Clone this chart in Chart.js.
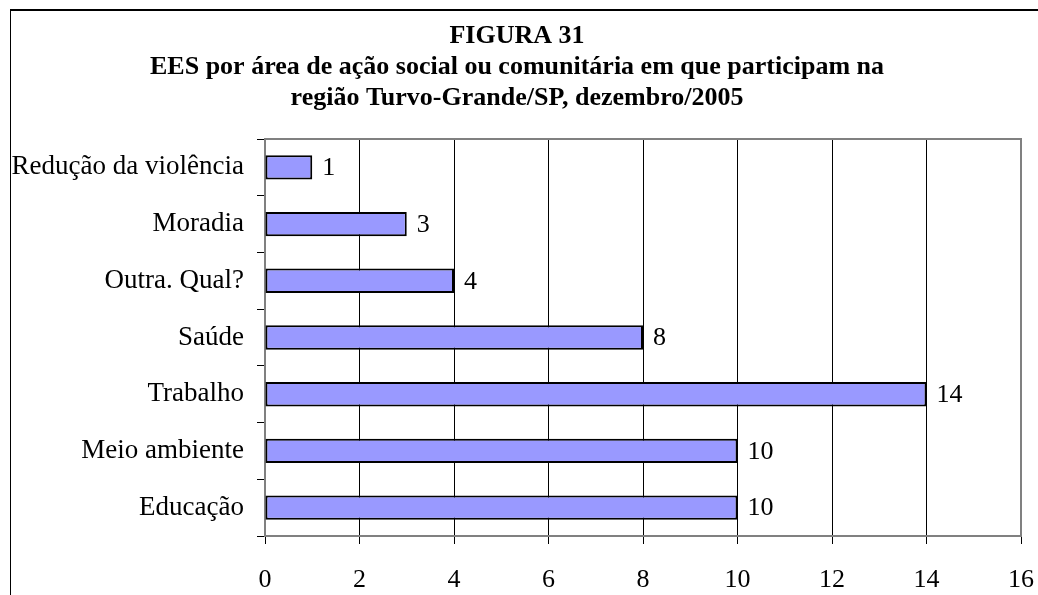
<!DOCTYPE html>
<html lang="pt">
<head>
  <meta charset="UTF-8">
  <title>Figura 31</title>
  <script src="https://cdn.jsdelivr.net/npm/chart.js@4.4.1/dist/chart.umd.min.js"></script>
  <style>
    html, body { margin: 0; padding: 0; background: #fff; overflow: hidden; }
    #wrap { position: relative; width: 1038px; height: 595px; }
    #frame { position: absolute; left: 10px; top: 9px; width: 1100px; height: 700px;
             border-left: 1px solid #000; border-top: 2px solid #000; pointer-events: none; }
  </style>
</head>
<body>
  <div id="wrap">
    <canvas id="grafico" width="1038" height="595"></canvas>
    <div id="frame"></div>
  </div>

  <script>
    // dados
    const areas = ["Redução da violência", "Moradia", "Outra. Qual?", "Saúde", "Trabalho", "Meio ambiente", "Educação"];
    const quantidades = [1, 3, 4, 8, 14, 10, 10];
    const tituloLinhas = [
      "FIGURA 31",
      "EES por área de ação social ou comunitária em que participam na",
      "região Turvo-Grande/SP, dezembro/2005"
    ];

    const fonte = "'Liberation Serif', 'Times New Roman', serif";

    // titulo + rotulos das barras + moldura cinza da area do grafico
    const extras = {
      id: "extras",
      afterDraw(chart) {
        const ctx = chart.ctx;
        const area = chart.chartArea;
        ctx.save();

        ctx.strokeStyle = "#808080";
        ctx.lineWidth = 2;
        ctx.beginPath();
        ctx.moveTo(area.left, area.top);
        ctx.lineTo(area.right, area.top);
        ctx.lineTo(area.right, area.bottom);
        ctx.stroke();

        ctx.fillStyle = "#000";
        ctx.textAlign = "center";
        ctx.textBaseline = "middle";
        ctx.font = "bold 26px " + fonte;
        tituloLinhas.forEach(function (linha, i) {
          ctx.fillText(linha, 517, 36 + i * 31);
        });

        ctx.font = "26px " + fonte;
        ctx.textAlign = "left";
        const meta = chart.getDatasetMeta(0);
        meta.data.forEach(function (bar, i) {
          ctx.fillText(String(quantidades[i]), bar.x + 10, bar.y + 1);
        });
        ctx.restore();
      }
    };

    new Chart("grafico", {
      type: "bar",
      data: {
        labels: areas,
        datasets: [{
          data: quantidades,
          backgroundColor: "#9999FF",
          borderColor: "#000",
          borderWidth: 2,
          borderSkipped: false,
          categoryPercentage: 1,
          barPercentage: 0.43
        }]
      },
      options: {
        indexAxis: "y",
        responsive: false,
        animation: false,
        layout: { padding: { top: 139, right: 17, left: 0, bottom: 0 } },
        plugins: {
          legend: { display: false },
          tooltip: { enabled: false }
        },
        scales: {
          x: {
            min: 0,
            max: 16,
            ticks: { stepSize: 2, color: "#000", font: { family: fonte, size: 26 }, padding: 21 },
            grid: { color: "#000", lineWidth: 1, tickLength: 8, tickColor: "#000" },
            border: { color: "#808080", width: 2 },
            afterFit(scale) {
              scale.height = 59;
              scale.paddingLeft = 0;
              scale.paddingRight = 0;
            }
          },
          y: {
            ticks: { color: "#000", font: { family: fonte, size: 27 }, padding: 13 },
            grid: { offset: true, drawOnChartArea: false, tickLength: 8, color: "#000" },
            border: { color: "#808080", width: 2 },
            afterFit(scale) { scale.width = 265; }
          }
        }
      },
      plugins: [extras]
    });
  </script>
</body>
</html>
